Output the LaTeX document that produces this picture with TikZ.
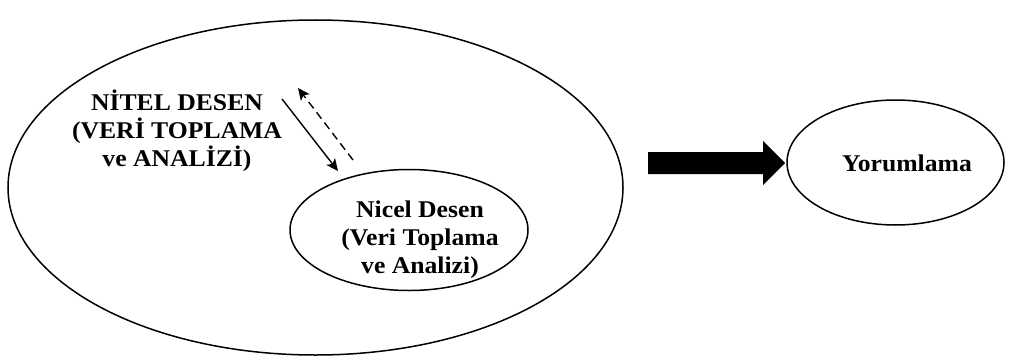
\documentclass[tikz,border=0pt]{standalone}
\usepackage{fontspec}
\setmainfont{Liberation Serif}[FakeStretch=1.07]
\usetikzlibrary{shapes.geometric,arrows.meta}
\begin{document}
\begin{tikzpicture}[x=1pt,y=-1pt,
  oval/.style={ellipse,draw,line width=1.5pt,inner sep=0pt,outer sep=0pt},
  label/.style={align=center,font=\fontsize{24}{28}\selectfont\bfseries,inner sep=0pt},
  link/.style={line width=1.4pt,-{Stealth[length=12pt,width=11pt,inset=3pt]}}]
  \useasboundingbox (0,0) rectangle (1011,361);

  % outer design, inner design and interpretation
  \node[oval,minimum width=615pt,minimum height=335pt] (outer) at (315.5,187.5) {};
  \node[oval,minimum width=238pt,minimum height=121pt] (inner) at (409,230) {};
  \node[oval,minimum width=217pt,minimum height=125pt] (yorum) at (895.5,162.5) {};

  \node[label] (nitel) at (177,131) {NİTEL DESEN\\(VERİ TOPLAMA\\ve ANALİZİ)};
  \node[label] (nicel) at (420,240) {Nicel Desen\\(Veri Toplama\\ve Analizi)};
  \node[label] (yorumtext) at (907,163) {Yorumlama};

  % two-way link between the designs
  \coordinate (s1) at (282,99);
  \coordinate (e1) at (338,171);
  \coordinate (s2) at (353,160);
  \coordinate (e2) at (298,88);
  \draw[link] (s1) -- (e1);
  \draw[link,dash pattern=on 8pt off 5pt] (s2) -- (e2);

  % block arrow towards the interpretation
  \coordinate (b1) at (648,152);
  \coordinate (b2) at (763,152);
  \coordinate (b3) at (763,141);
  \coordinate (tip) at (785,163);
  \coordinate (b4) at (763,185);
  \coordinate (b5) at (763,174);
  \coordinate (b6) at (648,174);
  \fill (b1) -- (b2) -- (b3) -- (tip) -- (b4) -- (b5) -- (b6) -- cycle;
\end{tikzpicture}
\end{document}
